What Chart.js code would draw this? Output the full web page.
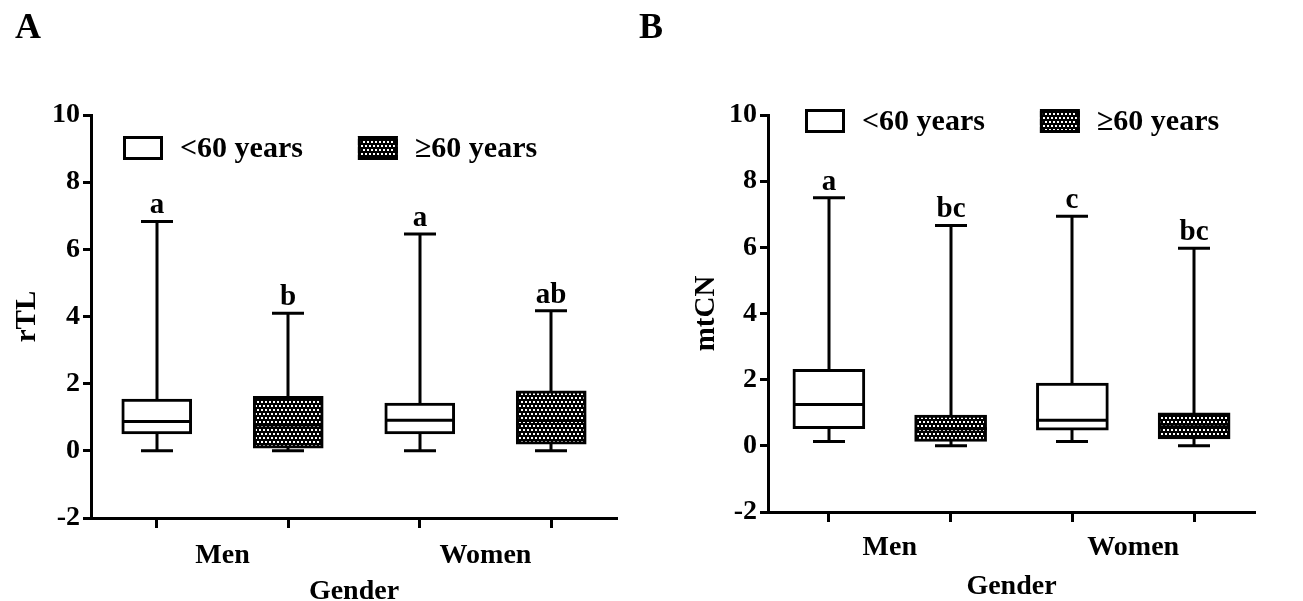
<!DOCTYPE html>
<html>
<head>
<meta charset="utf-8">
<script src="https://cdn.jsdelivr.net/npm/chart.js@4.4.1/dist/chart.umd.min.js"></script>
<style>
  html, body { margin: 0; padding: 0; background: #fff; overflow: hidden; }
  #wrap { position: relative; width: 1303px; height: 601px; overflow: hidden; }
  canvas { position: absolute; top: 0; }
  #chartA { left: 0; }
  #chartB { left: 680px; }
  .panel { position: absolute; font: bold 36px "Liberation Serif", serif; color: #000; }
</style>
</head>
<body>
<div id="wrap">
  <canvas id="chartA" width="650" height="612"></canvas>
  <canvas id="chartB" width="623" height="612"></canvas>
  <div class="panel" style="left:15px; top:5px;">A</div>
  <div class="panel" style="left:639px; top:5px;">B</div>
</div>
<script>
// categories
const groups = ['Men', 'Women'];
const boxLabels = ['Men <60', 'Men ≥60', 'Women <60', 'Women ≥60'];
const ageLabels = ['<60 years', '≥60 years'];
// which age group each box belongs to (0 = <60, 1 = ≥60)
const boxAge = [0, 1, 0, 1];

// Panel A: rTL (min, q1, median, q3, max)
const rtlMin = [0, 0, 0, 0];
const rtlQ1 = [0.5, 0.08, 0.5, 0.2];
const rtlMed = [0.87, 0.77, 0.91, 0.9];
const rtlQ3 = [1.54, 1.62, 1.42, 1.79];
const rtlMax = [6.83, 4.1, 6.46, 4.17];
const rtlLetters = ['a', 'b', 'a', 'ab'];

// Panel B: mtCN
const mtMin = [0.13, 0, 0.13, 0];
const mtQ1 = [0.52, 0.13, 0.47, 0.21];
const mtMed = [1.25, 0.52, 0.77, 0.58];
const mtQ3 = [2.31, 0.93, 1.9, 1.0];
const mtMax = [7.5, 6.66, 6.94, 5.97];
const mtLetters = ['a', 'bc', 'c', 'bc'];

const FONT = '"Liberation Serif", "Times New Roman", serif';

// dotted fill for the >=60 boxes (white dots on black, rows staggered)
function makePattern() {
    const c = document.createElement('canvas');
    c.width = 4; c.height = 8;
    const g = c.getContext('2d');
    g.fillStyle = '#000';
    g.fillRect(0, 0, 4, 8);
    g.fillStyle = '#fff';
    g.fillRect(1, 1, 2, 2);
    g.fillRect(3, 5, 1, 2);
    g.fillRect(0, 5, 1, 2);
    return g.createPattern(c, 'repeat');
}
const dots = makePattern();
const fills = ['#ffffff', dots];

// whiskers, caps, medians and letters drawn from the y scale
const boxPlugin = {
    id: 'boxExtras',
    beforeDatasetsDraw(chart, args, opts) {
        const ctx = chart.ctx;
        const y = chart.scales.y;
        ctx.save();
        ctx.strokeStyle = '#000';
        ctx.lineWidth = 3;
        chart.data.datasets.forEach((ds, di) => {
            chart.getDatasetMeta(di).data.forEach((bar, i) => {
                if (ds.data[i] == null) return;
                const x = Math.round(bar.x);
                const yMin = y.getPixelForValue(opts.min[i]);
                const yMax = y.getPixelForValue(opts.max[i]);
                ctx.beginPath();
                ctx.moveTo(x, yMin);
                ctx.lineTo(x, yMax);
                ctx.moveTo(x - opts.cap, yMax);
                ctx.lineTo(x + opts.cap, yMax);
                ctx.moveTo(x - opts.cap, yMin);
                ctx.lineTo(x + opts.cap, yMin);
                ctx.stroke();
            });
        });
        ctx.restore();
    },
    afterDatasetsDraw(chart, args, opts) {
        const ctx = chart.ctx;
        const y = chart.scales.y;
        ctx.save();
        ctx.strokeStyle = '#000';
        ctx.lineWidth = 3;
        ctx.fillStyle = '#000';
        ctx.font = 'bold 29px ' + FONT;
        ctx.textAlign = 'center';
        ctx.textBaseline = 'alphabetic';
        chart.data.datasets.forEach((ds, di) => {
            chart.getDatasetMeta(di).data.forEach((bar, i) => {
                if (ds.data[i] == null) return;
                const x = Math.round(bar.x);
                const half = bar.width / 2;
                const yMed = y.getPixelForValue(opts.med[i]);
                ctx.beginPath();
                ctx.moveTo(x - half, yMed);
                ctx.lineTo(x + half, yMed);
                ctx.stroke();
                ctx.fillText(opts.letters[i], x, y.getPixelForValue(opts.max[i]) - 8);
            });
        });

        // legend inside the plot area
        const area = chart.chartArea;
        const cy = area.top + opts.legendDy;
        let lx = area.left + opts.legendDx;
        ctx.font = 'bold 30px ' + FONT;
        ctx.textAlign = 'left';
        ctx.textBaseline = 'middle';
        ageLabels.forEach((label, k) => {
            ctx.fillStyle = fills[k];
            ctx.fillRect(lx, cy - 12, 40, 24);
            ctx.strokeRect(lx + 1.5, cy - 10.5, 37, 21);
            ctx.fillStyle = '#000';
            ctx.fillText(label, lx + 57, cy + 1);
            lx += 57 + ctx.measureText(label).width + 55;
        });
        ctx.restore();
    }
};

function boxChart(id, yTitle, q1, q3, extras, dims) {
    const datasets = ageLabels.map((label, k) => ({
        label: label,
        data: boxLabels.map((_, i) => boxAge[i] === k ? [q1[i], q3[i]] : null),
        backgroundColor: fills[k],
        borderColor: '#000',
        borderWidth: 3,
        borderSkipped: false,
        barThickness: dims.barWidth,
        skipNull: true
    }));

    return new Chart(document.getElementById(id), {
        type: 'bar',
        data: { labels: boxLabels, datasets: datasets },
        plugins: [boxPlugin],
        options: {
            responsive: false,
            animation: false,
            devicePixelRatio: 1,
            layout: { padding: { top: 115, right: dims.padRight, left: 0, bottom: 0 } },
            plugins: {
                legend: { display: false },
                tooltip: { enabled: false },
                boxExtras: extras
            },
            scales: {
                y: {
                    min: -2,
                    max: 10,
                    ticks: {
                        stepSize: 2,
                        color: '#000',
                        padding: 3,
                        font: { family: FONT, size: 28, weight: 'bold' }
                    },
                    grid: { drawOnChartArea: false, tickLength: 8, tickWidth: 3, color: '#000' },
                    border: { color: '#000', width: 3 },
                    title: {
                        display: true,
                        text: yTitle,
                        color: '#000',
                        padding: { top: dims.yTitlePad, bottom: 0 },
                        font: { family: FONT, size: 29, weight: 'bold', lineHeight: 1.2 }
                    },
                    afterFit: s => { s.width = dims.yWidth; }
                },
                x: {
                    weight: 1,
                    offset: true,
                    ticks: { display: false },
                    grid: { offset: false, drawOnChartArea: false, tickLength: 10, tickWidth: 3, color: '#000' },
                    border: { color: '#000', width: 3 },
                    afterFit: s => { s.height = 10; }
                },
                x2: {
                    type: 'category',
                    position: 'bottom',
                    weight: 2,
                    labels: groups,
                    offset: true,
                    grid: { display: false, drawTicks: false },
                    border: { display: false },
                    ticks: {
                        color: '#000',
                        padding: dims.labelPad,
                        maxRotation: 0,
                        font: { family: FONT, size: 28, weight: 'bold' }
                    },
                    title: {
                        display: true,
                        text: 'Gender',
                        color: '#000',
                        padding: { top: 0, bottom: dims.xTitlePad },
                        font: { family: FONT, size: 28, weight: 'bold', lineHeight: 1.2 }
                    },
                    afterFit: s => { s.height = 612 - dims.bottom - 10; }
                }
            }
        }
    });
}

boxChart('chartA', 'rTL', rtlQ1, rtlQ3,
    { min: rtlMin, max: rtlMax, med: rtlMed, letters: rtlLetters, cap: 16, legendDx: 32, legendDy: 33 },
    { barWidth: 70, padRight: 33, yWidth: 91, yTitlePad: 10, bottom: 518, labelPad: 11, xTitlePad: 3 });

boxChart('chartB', 'mtCN', mtQ1, mtQ3,
    { min: mtMin, max: mtMax, med: mtMed, letters: mtLetters, cap: 16, legendDx: 37, legendDy: 6 },
    { barWidth: 72, padRight: 48, yWidth: 88, yTitlePad: 9, bottom: 512, labelPad: 9, xTitlePad: 8 });
</script>
</body>
</html>
